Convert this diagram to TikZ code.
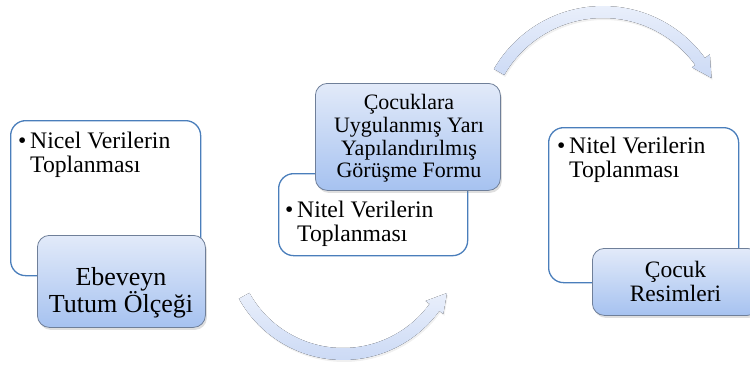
\documentclass[tikz,border=0pt]{standalone}
\usepackage{fontspec}
\setmainfont{LiberationSerif}[Extension=.ttf, UprightFont=*-Regular, BoldFont=*-Bold]
\usetikzlibrary{shadows}
\definecolor{boxline}{HTML}{4A7EBB}
\definecolor{bluetop}{HTML}{E2EAF9}
\definecolor{bluebot}{HTML}{A6C2F0}
\definecolor{blueline}{HTML}{6F7F99}
\definecolor{arrowdark}{HTML}{CCDAF5}
\definecolor{arrowlight}{HTML}{E9EFFB}
\begin{document}
\begin{tikzpicture}[x=1pt,y=-1pt,
  whitebox/.style={draw=boxline, line width=1.3pt, fill=white, rounded corners=15pt,
    inner sep=0pt, anchor=north west},
  bluebox/.style={draw=blueline, line width=0.8pt, top color=bluetop, bottom color=bluebot,
    rounded corners=12pt, inner sep=0pt, anchor=north west,
    drop shadow={shadow xshift=1.5pt, shadow yshift=-2.5pt, opacity=0.25}},
  bullettxt/.style={inner sep=0pt, anchor=north west, align=left,
    font=\fontsize{23.7}{24}\selectfont},
  bluetxt/.style={inner sep=0pt, align=center},
  arrowshape/.style={top color=arrowlight, bottom color=arrowdark, draw=none,
    drop shadow={shadow xshift=1pt, shadow yshift=-2pt, opacity=0.12}}
]
\useasboundingbox (0,0) rectangle (750,368);
\clip (0,0) rectangle (750,368);

% top curved arrow
\fill[arrowshape]
  plot[domain=210:324, samples=60] ({603+126*cos(\x)},{132+126*sin(\x)})
  -- ({603+132*cos(324)},{132+132*sin(324)})
  -- (711.5,78)
  -- ({603+110*cos(324)},{132+110*sin(324)})
  -- plot[domain=324:210, samples=60] ({603+114*cos(\x)},{132+114*sin(\x)})
  -- cycle;

% bottom curved arrow
\fill[arrowshape]
  plot[domain=151:36, samples=60] ({343+119*cos(\x)},{241+119*sin(\x)})
  -- ({343+124*cos(36)},{241+124*sin(36)})
  -- (447,293)
  -- ({343+102*cos(36)},{241+102*sin(36)})
  -- plot[domain=36:151, samples=60] ({343+107*cos(\x)},{241+107*sin(\x)})
  -- cycle;

% group 1
\node[whitebox, minimum width=190pt, minimum height=155pt] (w1) at (10,120) {};
\node[bullettxt] (t1) at (18,132)
  {\makebox[12pt][l]{\textbullet}Nicel Verilerin\\\hspace*{12pt}Toplanması};
\node[bluebox, minimum width=168pt, minimum height=92pt] (b1) at (37,235) {};
\node[bluetxt, font=\fontsize{26}{26.9}\selectfont] (l1) at (121,293)
  {Ebeveyn\\Tutum Ölçeği};

% group 2
\node[whitebox, minimum width=189pt, minimum height=82pt] (w2) at (278,173) {};
\node[bullettxt] (t2) at (285,201)
  {\makebox[12pt][l]{\textbullet}Nitel Verilerin\\\hspace*{12pt}Toplanması};
\node[bluebox, minimum width=185pt, minimum height=107pt] (b2) at (315,83) {};
\node[bluetxt, font=\fontsize{22}{22.7}\selectfont] (l2) at (409,138.5)
  {Çocuklara\\Uygulanmış Yarı\\Yapılandırılmış\\Görüşme Formu};

% group 3
\node[whitebox, minimum width=190pt, minimum height=155pt] (w3) at (548,127) {};
\node[bullettxt] (t3) at (557,137)
  {\makebox[12pt][l]{\textbullet}Nitel Verilerin\\\hspace*{12pt}Toplanması};
\node[bluebox, minimum width=167pt, minimum height=67pt] (b3) at (592,248) {};
\node[bluetxt, font=\fontsize{23.5}{24.5}\selectfont] (l3) at (675.5,281.7)
  {Çocuk\\Resimleri};
\end{tikzpicture}
\end{document}
